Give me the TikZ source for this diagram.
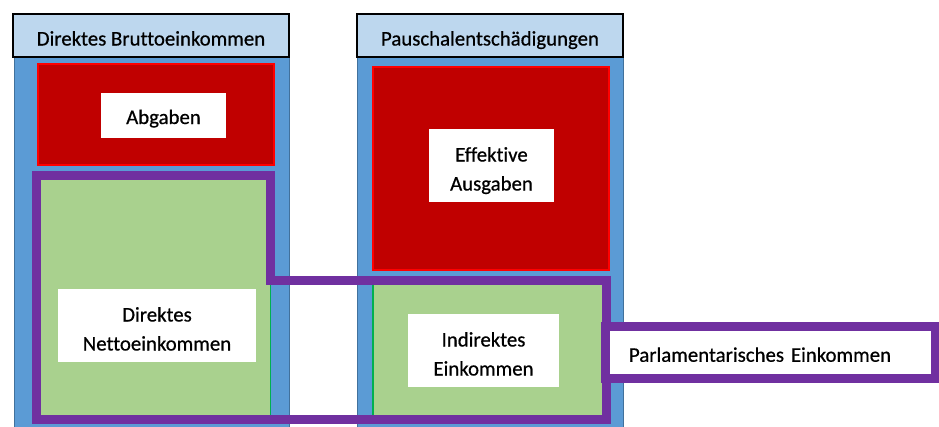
\documentclass[tikz,border=0pt]{standalone}
\usepackage{fontspec}
\setmainfont[Ligatures={NoCommon},FakeBold=0.6]{Carlito}
\definecolor{colblue}{HTML}{5B9BD5}
\definecolor{colblueedge}{HTML}{41719C}
\definecolor{headfill}{HTML}{BDD7EE}
\definecolor{darkred}{HTML}{C00000}
\definecolor{brightred}{HTML}{FF0000}
\definecolor{lightgreen}{HTML}{A9D18E}
\definecolor{greenline}{HTML}{00B050}
\definecolor{purp}{HTML}{7030A0}
\begin{document}
\begin{tikzpicture}[x=1pt,y=-1pt,
  box/.style={rectangle, inner sep=0pt, outer sep=0pt, anchor=north west, align=center},
  column/.style={box, fill=colblue, draw=colblueedge, line width=1pt},
  header/.style={box, fill=headfill, draw=black, line width=2pt},
  redbox/.style={box, fill=darkred, draw=brightred, line width=1.5pt},
  greenbox/.style={box, fill=lightgreen},
  label/.style={box, fill=white},
  purpleline/.style={draw=purp, line width=9pt, line join=miter},
  txt/.style={font=\fontsize{20.8}{29}\selectfont, text depth=0pt}]
\useasboundingbox (0,0) rectangle (939,426);
% columns
\node[column, minimum width=275pt, minimum height=380pt] (colL) at (14,50) {};
\node[column, minimum width=266pt, minimum height=380pt] (colR) at (357,50) {};
% headers
\node[header, txt, minimum width=276pt, minimum height=43pt, text height=20pt] (hL) at (13,14) {Direktes Bruttoeinkommen};
\node[header, txt, minimum width=266pt, minimum height=43pt, text height=20pt] (hR) at (357,14) {Pauschalentschädigungen};
% red boxes
\node[redbox, minimum width=236pt, minimum height=101pt] (redL) at (38,64) {};
\node[redbox, minimum width=236pt, minimum height=203pt] (redR) at (373,67) {};
% green boxes
\node[greenbox, minimum width=230pt, minimum height=240pt] (greenL) at (40,178) {};
\node[greenbox, minimum width=233pt, minimum height=135pt] (greenR) at (372,282) {};
% green edge lines
\coordinate (gl1) at (270.5,284);
\coordinate (gl2) at (270.5,416);
\coordinate (gr1) at (373,284);
\coordinate (gr2) at (373,416);
\draw[greenline, line width=1.5pt] (gl1) -- (gl2);
\draw[greenline, line width=1.5pt] (gr1) -- (gr2);
% purple outline
\coordinate (p1) at (36.5,175);
\coordinate (p2) at (270.5,175);
\coordinate (p3) at (270.5,280);
\coordinate (p4) at (606.5,280);
\coordinate (p5) at (606.5,419.5);
\coordinate (p6) at (36.5,419.5);
\draw[purpleline] (p1) -- (p2) -- (p3) -- (p4) -- (p5) -- (p6) -- cycle;
% white labels
\node[label, txt, minimum width=125pt, minimum height=45pt, text height=17pt] (abg) at (101,93) {Abgaben};
\node[label, txt, minimum width=125pt, minimum height=73pt, text height=50pt] (eff) at (429,129) {Effektive\\Ausgaben};
\node[label, txt, minimum width=198pt, minimum height=73pt, text height=50pt] (dne) at (58,289) {Direktes\\Nettoeinkommen};
\node[label, txt, minimum width=151pt, minimum height=73pt, text height=50pt] (ind) at (408,314) {Indirektes\\Einkommen};
% parliamentary income box
\node[box, txt, fill=white, draw=purp, line width=9pt, align=left, text width=283pt, inner xsep=23.5pt,
      minimum height=52pt, text height=18.5pt] (parl) at (605.5,326.5) {Parlamentarisches Einkommen};
\end{tikzpicture}
\end{document}
